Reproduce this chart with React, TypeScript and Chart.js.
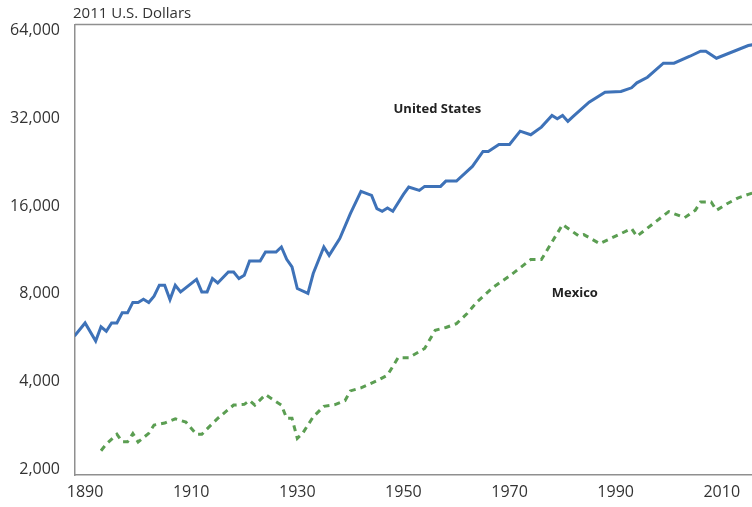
import React, { useEffect, useRef } from "react";
import { Chart, registerables } from "chart.js";

Chart.register(...registerables);

const usYears = [1888, 1890, 1892, 1893, 1894, 1895, 1896, 1897, 1898, 1899, 1900, 1901, 1902, 1903, 1904, 1905, 1906, 1907, 1908, 1911, 1912, 1913, 1914, 1915, 1917, 1918, 1919, 1920, 1921, 1923, 1924, 1926, 1927, 1928, 1929, 1930, 1932, 1933, 1935, 1936, 1938, 1940, 1942, 1944, 1945, 1946, 1947, 1948, 1950, 1951, 1953, 1954, 1957, 1958, 1960, 1963, 1965, 1966, 1968, 1970, 1972, 1974, 1976, 1978, 1979, 1980, 1981, 1982, 1985, 1988, 1991, 1993, 1994, 1996, 1999, 2001, 2004, 2006, 2007, 2009, 2015, 2016];
const usValues = [5740, 6360, 5520, 6170, 5960, 6360, 6360, 6890, 6890, 7480, 7480, 7670, 7480, 7860, 8570, 8570, 7650, 8570, 8130, 8980, 8130, 8130, 9030, 8720, 9510, 9510, 9030, 9270, 10380, 10380, 11140, 11140, 11590, 10520, 9900, 8350, 8030, 9400, 11590, 10850, 12380, 15080, 17980, 17420, 15690, 15360, 15760, 15360, 17560, 18600, 18120, 18700, 18700, 19500, 19500, 21900, 24640, 24640, 26040, 26040, 28920, 28110, 29860, 32740, 31900, 32740, 31230, 32490, 36350, 39350, 39560, 40730, 42370, 44280, 49460, 49460, 52260, 54360, 54360, 51440, 56860, 57300];

const mxYears = [1893, 1894, 1896, 1897, 1898, 1899, 1900, 1902, 1903, 1905, 1907, 1909, 1911, 1912, 1913, 1915, 1918, 1920, 1921, 1922, 1924, 1927, 1928, 1929, 1930, 1931, 1933, 1935, 1937, 1939, 1940, 1942, 1945, 1947, 1949, 1951, 1954, 1956, 1958, 1960, 1962, 1964, 1967, 1970, 1974, 1976, 1980, 1983, 1984, 1987, 1991, 1993, 1994, 2000, 2003, 2005, 2006, 2008, 2009, 2011, 2013, 2015, 2016];
const mxValues = [2320, 2445, 2642, 2490, 2490, 2657, 2484, 2661, 2841, 2886, 2985, 2908, 2640, 2640, 2757, 2995, 3326, 3345, 3451, 3326, 3612, 3326, 2995, 2995, 2558, 2661, 3033, 3292, 3332, 3446, 3720, 3809, 4028, 4213, 4837, 4837, 5202, 6008, 6138, 6326, 6854, 7552, 8454, 9214, 10492, 10492, 13840, 12660, 12780, 11900, 12880, 13400, 12610, 15320, 14610, 15480, 16530, 16530, 15480, 16310, 17050, 17560, 17800];

const xTicks = [1890, 1910, 1930, 1950, 1970, 1990, 2010];
const yTicks = [2000, 4000, 8000, 16000, 32000, 64000];
const axisTitle = "2011 U.S. Dollars";
const seriesLabels = ["United States", "Mexico"];
// label anchor positions in data coordinates [year, value]
const labelAnchors: [number, number][] = [
  [1956.4, 34300],
  [1982.3, 8060],
];

const FONT = "'Open Sans', 'Noto Sans', sans-serif";

export default function App() {
  const ref = useRef<HTMLCanvasElement | null>(null);

  useEffect(() => {
    document.body.style.margin = "0";
    const canvas = ref.current;
    if (!canvas) return;

    const textPlugin = {
      id: "extraText",
      afterDraw(chart: any) {
        const { ctx, chartArea, scales } = chart;
        ctx.save();
        // top border
        ctx.strokeStyle = "#8f8f8f";
        ctx.lineWidth = 1.5;
        ctx.beginPath();
        ctx.moveTo(chartArea.left, chartArea.top);
        ctx.lineTo(chartArea.right, chartArea.top);
        ctx.stroke();
        // axis title
        ctx.fillStyle = "#333333";
        ctx.font = `15px ${FONT}`;
        ctx.textAlign = "left";
        ctx.textBaseline = "middle";
        ctx.fillText(axisTitle, chartArea.left - 2, chartArea.top - 11);
        // series labels
        ctx.font = `bold 13px ${FONT}`;
        ctx.fillStyle = "#222222";
        ctx.textAlign = "center";
        seriesLabels.forEach((t, i) => {
          const [yr, v] = labelAnchors[i];
          ctx.fillText(t, scales.x.getPixelForValue(yr), scales.y.getPixelForValue(v));
        });
        ctx.restore();
      },
    };

    const chart = new Chart(canvas, {
      type: "line",
      data: {
        datasets: [
          {
            label: seriesLabels[0],
            data: usYears.map((y, i) => ({ x: y, y: usValues[i] })),
            borderColor: "#3e72b8",
            borderWidth: 3,
            pointRadius: 0,
            tension: 0,
            fill: false,
          },
          {
            label: seriesLabels[1],
            data: mxYears.map((y, i) => ({ x: y, y: mxValues[i] })),
            borderColor: "#5b9e52",
            borderWidth: 3,
            borderDash: [6, 5],
            pointRadius: 0,
            tension: 0,
            fill: false,
          },
        ],
      },
      options: {
        responsive: false,
        animation: false,
        layout: { padding: { top: 24, right: 0, left: 0, bottom: 0 } },
        plugins: {
          legend: { display: false },
          tooltip: { enabled: false },
          title: { display: false },
        },
        scales: {
          x: {
            type: "linear",
            min: 1888.1,
            max: 2015.7,
            afterBuildTicks: (scale: any) => {
              scale.ticks = xTicks.map((v) => ({ value: v }));
            },
            afterFit: (scale: any) => {
              scale.height = 32;
            },
            ticks: {
              font: { family: FONT, size: 16 },
              color: "#333333",
              padding: 8,
              maxRotation: 0,
              autoSkip: false,
              callback: (v: any) => String(v),
            },
            grid: { display: false, drawTicks: false },
            border: { display: true, color: "#8f8f8f", width: 1.5 },
          },
          y: {
            type: "logarithmic",
            min: 1915,
            max: 67090,
            afterBuildTicks: (scale: any) => {
              scale.ticks = yTicks.map((v) => ({ value: v }));
            },
            afterFit: (scale: any) => {
              scale.width = 75;
            },
            ticks: {
              font: { family: FONT, size: 16 },
              color: "#333333",
              padding: 15,
              autoSkip: false,
              callback: (v: any) => Number(v).toLocaleString("en-US"),
            },
            grid: { display: false, drawTicks: false },
            border: { display: true, color: "#8f8f8f", width: 1.5 },
          },
        },
      },
      plugins: [textPlugin],
    });

    return () => chart.destroy();
  }, []);

  return (
    <div style={{ width: 752, height: 507 }}>
      <canvas ref={ref} width={752} height={507} />
    </div>
  );
}
